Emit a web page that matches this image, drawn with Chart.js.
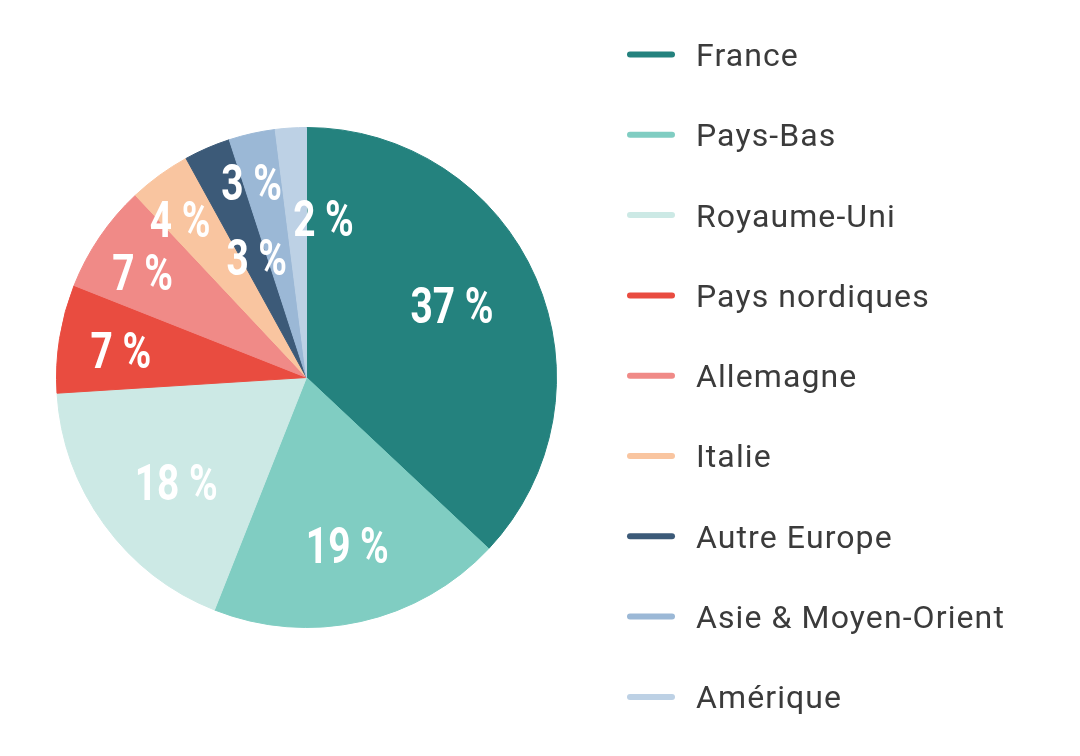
<!DOCTYPE html>
<html lang="fr">
<head>
<meta charset="utf-8">
<title>Répartition par pays</title>
<script src="https://cdn.jsdelivr.net/npm/chart.js@4/dist/chart.umd.min.js"></script>
<style>
  html, body { margin: 0; padding: 0; background: #ffffff; }
  #wrap { position: relative; width: 1080px; height: 756px; }
</style>
</head>
<body>
<div id="wrap"><canvas id="pieChart"></canvas></div>
<script>
// Data
const regions = ['France', 'Pays-Bas', 'Royaume-Uni', 'Pays nordiques', 'Allemagne',
  'Italie', 'Autre Europe', 'Asie & Moyen-Orient', 'Amérique'];
const shares = [37, 19, 18, 7, 7, 4, 3, 3, 2];
const sliceColors = ['#24827e', '#80cdc2', '#cce9e5', '#e94c40', '#f08a87',
  '#f9c5a0', '#3c5a78', '#9bb8d6', '#bdd1e5'];

// Where each percentage sits: fraction of radius, angle clockwise from 12 o'clock
const labelAnchors = [
  { r: 0.65, deg: 63.6 },
  { r: 0.69, deg: 166.3 },
  { r: 0.67, deg: 231.1 },
  { r: 0.75, deg: 278.3 },
  { r: 0.78, deg: 302.8 },
  { r: 0.81, deg: 321.4 },
  { r: 0.52, deg: 337.5 },
  { r: 0.81, deg: 344.3 },
  { r: 0.64, deg: 6.1 }
];

// Percent labels drawn on top of the slices (squeezed to look condensed)
const sliceLabels = {
  id: 'sliceLabels',
  afterDatasetsDraw: (chart) => {
    const ctx = chart.ctx;
    const meta = chart.getDatasetMeta(0);
    const size = 50;
    ctx.save();
    ctx.fillStyle = '#ffffff';
    ctx.font = 'bold ' + size + 'px Roboto, "DejaVu Sans", sans-serif';
    ctx.textAlign = 'center';
    ctx.textBaseline = 'alphabetic';
    // "37 %" is about 83px wide in the original
    const squeeze = 83 / ctx.measureText('37 %').width;
    meta.data.forEach((arc, i) => {
      const spot = labelAnchors[i];
      const a = spot.deg * Math.PI / 180;
      const x = arc.x + Math.sin(a) * spot.r * arc.outerRadius;
      const y = arc.y - Math.cos(a) * spot.r * arc.outerRadius;
      ctx.save();
      ctx.translate(x, y);
      ctx.scale(squeeze, 1);
      ctx.fillText(chart.data.datasets[0].data[i] + ' %', 0, size * 0.711 / 2);
      ctx.restore();
    });
    ctx.restore();
  }
};

// Legend on the right: rounded line + label
const lineLegend = {
  id: 'lineLegend',
  afterDraw: (chart) => {
    const ctx = chart.ctx;
    const top = 54.5;
    const step = 80.3;
    ctx.save();
    ctx.font = '32px Roboto, "Open Sans", sans-serif';
    ctx.letterSpacing = '1.1px';
    ctx.textAlign = 'left';
    ctx.textBaseline = 'alphabetic';
    chart.data.labels.forEach((label, i) => {
      const y = top + i * step;
      ctx.beginPath();
      ctx.lineWidth = 6;
      ctx.lineCap = 'round';
      ctx.strokeStyle = chart.data.datasets[0].backgroundColor[i];
      ctx.moveTo(630, y);
      ctx.lineTo(672, y);
      ctx.stroke();
      ctx.fillStyle = '#3b3b3b';
      ctx.fillText(label, 696, y + 11.4);
    });
    ctx.restore();
  }
};

const ctx = document.getElementById('pieChart');
const chart = new Chart(ctx, {
  type: 'pie',
  data: {
    labels: regions,
    datasets: [{
      data: shares,
      backgroundColor: sliceColors,
      borderColor: sliceColors,
      borderWidth: 1
    }]
  },
  options: {
    responsive: true,
    maintainAspectRatio: false,
    animation: false,
    layout: {
      padding: { left: 56, right: 523, top: 127, bottom: 128 }
    },
    plugins: {
      legend: { display: false },
      tooltip: { enabled: false }
    }
  },
  plugins: [sliceLabels, lineLegend]
});
</script>
</body>
</html>
